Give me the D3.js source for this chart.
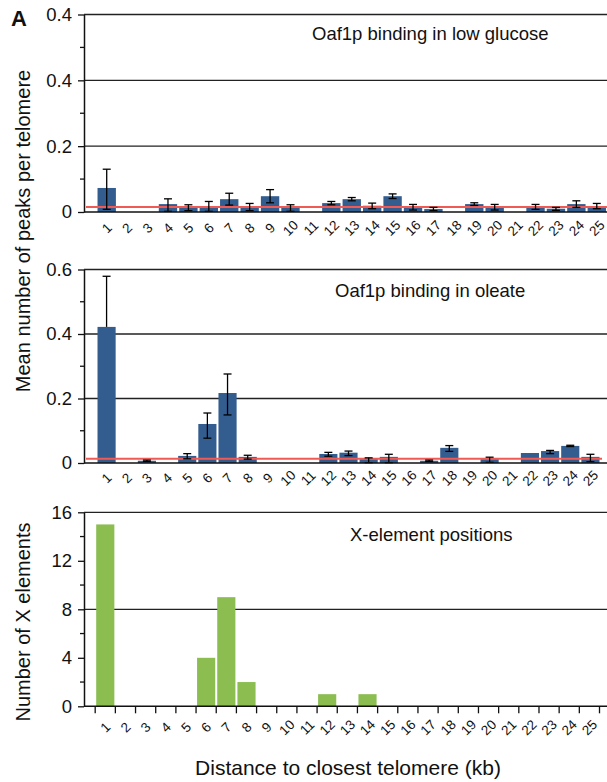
<!DOCTYPE html>
<html>
<head>
<meta charset="utf-8">
<script src="https://cdn.jsdelivr.net/npm/d3@7"></script>
<style>
  body { margin: 0; background: #fff; }
  text { font-family: "Liberation Sans", Arial, Helvetica, sans-serif; fill: #111; }
</style>
</head>
<body>
<div id="chart"></div>
<script>
// distance bins (kb)
let bins = d3.range(1, 26).map(String);

// low glucose: mean peaks per telomere, error bar bounds
let glucose_val = [0.073, 0, 0, 0.024, 0.016, 0.018, 0.039, 0.016, 0.048, 0.016, 0, 0.027, 0.039,
                   0.019, 0.048, 0.015, 0.009, 0, 0.024, 0.015, 0, 0.016, 0.010, 0.024, 0.018];
let glucose_hi  = [0.130, 0, 0, 0.040, 0.022, 0.032, 0.057, 0.026, 0.068, 0.022, 0, 0.032, 0.044,
                   0.027, 0.055, 0.023, 0.014, 0, 0.028, 0.023, 0, 0.023, 0.014, 0.034, 0.026];
let glucose_lo  = [0.008, 0, 0, 0.002, 0.004, 0.002, 0.021, 0.004, 0.028, 0.002, 0, 0.022, 0.034,
                   0.010, 0.041, 0.006, 0.004, 0, 0.020, 0.006, 0, 0.008, 0.005, 0.014, 0.010];
let glucose_bg = 0.015;

// oleate
let oleate_val = [0.422, 0, 0.007, 0, 0.022, 0.121, 0.217, 0.019, 0, 0, 0, 0.028, 0.032,
                  0.012, 0.019, 0, 0.007, 0.047, 0, 0.012, 0, 0.031, 0.037, 0.053, 0.019];
let oleate_hi  = [0.579, 0, 0.009, 0, 0.029, 0.155, 0.276, 0.024, 0, 0, 0, 0.033, 0.037,
                  0.016, 0.027, 0, 0.009, 0.054, 0, 0.018, 0, 0.031, 0.039, 0.055, 0.027];
let oleate_lo  = [0.422, 0, 0.005, 0, 0.013, 0.077, 0.149, 0.012, 0, 0, 0, 0.021, 0.023,
                  0.001, 0.001, 0, 0.005, 0.036, 0, 0.002, 0, 0.031, 0.029, 0.051, 0.004];
let oleate_bg = 0.013;

// X-element counts
let xel_count = [15, 0, 0, 0, 0, 4, 9, 2, 0, 0, 0, 1, 0, 1, 0, 0, 0, 0, 0, 0, 0, 0, 0, 0, 0];

// y ticks
let peak_ticks = [0, 0.2, 0.4, 0.6];
let peak_minor = [0.1, 0.3, 0.5];
let glucose_tick_labels = ["0", "0.2", "0.4", "0.4"];
let oleate_tick_labels = ["0", "0.2", "0.4", "0.6"];
let xel_ticks = [0, 4, 8, 12, 16];
let xel_minor = [2, 6, 10, 14];
let xel_tick_labels = ["0", "4", "8", "12", "16"];

let W = 607, H = 782, axisX = 84, right = 607;

let blue = "#345d8f", green = "#8bbd50", red = "#f05a55";

let svg = d3.select("#chart").append("svg")
    .attr("width", W)
    .attr("height", H);

function draw_panel(p){
    let g = svg.append("g");
    let y = d3.scaleLinear().domain([0, p.max]).range([p.y0, p.y1]);
    let x = d3.scaleBand().domain(bins).range(p.xr).paddingInner(0.1).paddingOuter(0.05);

    // gridlines
    g.append("g").selectAll("line")
        .data(p.ticks.filter(function(d){ return d > 0 && p.grid.indexOf(d) >= 0; }))
        .enter().append("line")
        .attr("x1", axisX).attr("x2", right)
        .attr("y1", function(d){ return y(d); })
        .attr("y2", function(d){ return y(d); })
        .style("stroke", "#222").style("stroke-width", 1.3);

    // bars
    g.append("g").selectAll("rect")
        .data(p.values)
        .enter().append("rect")
        .attr("x", function(d, i){ return x(bins[i]); })
        .attr("width", x.bandwidth())
        .attr("y", function(d){ return y(d); })
        .attr("height", function(d){ return p.y0 - y(d); })
        .style("fill", p.color);

    // background line
    if (p.bg != null) {
        g.append("line")
            .attr("x1", axisX + 2).attr("x2", p.bgEnd)
            .attr("y1", y(p.bg)).attr("y2", y(p.bg))
            .style("stroke", red).style("stroke-width", 2);
    }

    // error bars
    if (p.hi) {
        let eb = g.append("g").selectAll("g")
            .data(p.values.map(function(v, i){ return {i: i, v: v, hi: p.hi[i], lo: p.lo[i]}; })
                .filter(function(d){ return d.hi > d.lo; }))
            .enter().append("g")
            .attr("transform", function(d){ return "translate(" + (x(bins[d.i]) + x.bandwidth()/2) + ",0)"; })
            .style("stroke", "#000").style("stroke-width", 1.3);
        eb.append("line").attr("y1", function(d){ return y(d.hi); }).attr("y2", function(d){ return y(d.lo); });
        eb.append("line").attr("x1", -4).attr("x2", 4)
            .attr("y1", function(d){ return y(d.hi); }).attr("y2", function(d){ return y(d.hi); });
        eb.filter(function(d){ return d.lo < d.v; }).append("line").attr("x1", -4).attr("x2", 4)
            .attr("y1", function(d){ return y(d.lo); }).attr("y2", function(d){ return y(d.lo); });
    }

    // x axis line
    g.append("line")
        .attr("x1", axisX).attr("x2", right)
        .attr("y1", p.y0).attr("y2", p.y0)
        .style("stroke", "#111").style("stroke-width", 1.5);

    if (p.xticks) {
        let off = (x.step() - x.bandwidth()) / 2;
        let pos = bins.map(function(b){ return x(b) - off; });
        pos.push(x(bins[bins.length - 1]) + x.bandwidth() + off);
        g.append("g").selectAll("line")
            .data(pos).enter().append("line")
            .attr("x1", function(d){ return d; }).attr("x2", function(d){ return d; })
            .attr("y1", p.y0).attr("y2", p.y0 + 7)
            .style("stroke", "#111").style("stroke-width", 1.3);
    }

    // x labels
    g.append("g").selectAll("text")
        .data(bins).enter().append("text")
        .attr("transform", function(d){ return "translate(" + (x(d) + x.bandwidth()/2) + "," + (p.y0 + p.labOff) + ")rotate(-45)"; })
        .attr("text-anchor", "middle")
        .attr("dy", "0.35em")
        .style("font-size", "13.5px")
        .text(function(d){ return d; });

    // y axis
    let ya = d3.axisLeft(y)
        .tickValues(p.ticks)
        .tickSize(6)
        .tickSizeOuter(0)
        .tickPadding(6)
        .tickFormat(function(d, i){ return p.labels[i]; });
    let yg = g.append("g").attr("transform", "translate(" + axisX + ",0)").call(ya);
    yg.select(".domain").style("stroke", "#111").style("stroke-width", 1.5);
    yg.selectAll(".tick line").style("stroke", "#111").style("stroke-width", 1.3);
    yg.selectAll(".tick text").style("font-size", "18.5px").style("font-family", "Liberation Sans, Arial, sans-serif").style("fill", "#111");
    g.append("g").selectAll("line")
        .data(p.minor).enter().append("line")
        .attr("x1", axisX - 4).attr("x2", axisX)
        .attr("y1", function(d){ return y(d); }).attr("y2", function(d){ return y(d); })
        .style("stroke", "#111").style("stroke-width", 1.3);

    // panel title
    g.append("text")
        .attr("x", p.titleX).attr("y", p.titleY)
        .style("font-size", "18.5px")
        .text(p.title);
}

draw_panel({
    values: glucose_val, hi: glucose_hi, lo: glucose_lo, bg: glucose_bg, bgEnd: 607,
    max: 0.6, y0: 212, y1: 14.5, xr: [96.5, 607],
    ticks: peak_ticks, minor: peak_minor, labels: glucose_tick_labels, grid: [0.2, 0.4, 0.6],
    color: blue, labOff: 16, xticks: false,
    title: "Oaf1p binding in low glucose", titleX: 312, titleY: 40
});

draw_panel({
    values: oleate_val, hi: oleate_hi, lo: oleate_lo, bg: oleate_bg, bgEnd: 602,
    max: 0.6, y0: 463, y1: 269.5, xr: [96.5, 600.5],
    ticks: peak_ticks, minor: peak_minor, labels: oleate_tick_labels, grid: [0.2, 0.4, 0.6],
    color: blue, labOff: 15, xticks: false,
    title: "Oaf1p binding in oleate", titleX: 335, titleY: 297
});

draw_panel({
    values: xel_count, hi: null, lo: null, bg: null,
    max: 16, y0: 706.3, y1: 512.3, xr: [95.2, 599.5],
    ticks: xel_ticks, minor: xel_minor, labels: xel_tick_labels, grid: [8, 16],
    color: green, labOff: 21, xticks: true,
    title: "X-element positions", titleX: 350, titleY: 541
});

// axis titles
svg.append("text")
    .attr("transform", "translate(30,231)rotate(-90)")
    .attr("text-anchor", "middle")
    .style("font-size", "20px")
    .text("Mean number of peaks per telomere");

svg.append("text")
    .attr("transform", "translate(30,622)rotate(-90)")
    .attr("text-anchor", "middle")
    .style("font-size", "20px")
    .text("Number of X elements");

svg.append("text")
    .attr("x", 348).attr("y", 775)
    .attr("text-anchor", "middle")
    .style("font-size", "21px")
    .text("Distance to closest telomere (kb)");

svg.append("text")
    .attr("x", 11).attr("y", 26)
    .style("font-size", "22px")
    .style("font-weight", "bold")
    .text("A");
</script>
</body>
</html>
